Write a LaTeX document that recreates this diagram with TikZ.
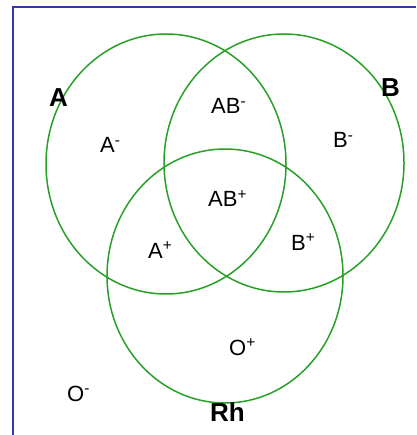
\documentclass[tikz,border=0pt]{standalone}
\usepackage{fontspec}
\setmainfont{Liberation Sans}

\definecolor{setgreen}{RGB}{40,160,40}
\definecolor{frameblue}{RGB}{55,55,165}

\begin{document}
\begin{tikzpicture}[
        x=1pt, y=-1pt,
        every node/.style={inner sep=0pt, anchor=base west},
        region/.style={font=\fontsize{22}{25}\selectfont},
        setname/.style={font=\fontsize{26}{29}\selectfont\bfseries},
        setline/.style={draw=setgreen, line width=1.5pt},
        frame/.style={draw=frameblue, line width=2pt}
      ]
        \useasboundingbox (0,0) rectangle (416,435);

        % frame on top and left
        \draw[frame] (416,7) -- (13,7) -- (13,435);

        % the three sets
        \draw[setline] (166,164) ellipse [x radius=120pt, y radius=130pt];
        \draw[setline] (284,163) ellipse [x radius=120pt, y radius=129pt];
        \draw[setline] (225,276) ellipse [x radius=118pt, y radius=127pt];

        % set names
        \node[setname] (A) at (49,107) {A};
        \node[setname] (B) at (381,97) {B};
        \node[setname] (Rh) at (210,421) {Rh};

        % blood groups
        \node[region] (Aneg) at (100,153) {A\textsuperscript{-}};
        \node[region] (ABneg) at (211,114) {AB\textsuperscript{-}};
        \node[region] (Bneg) at (333,148) {B\textsuperscript{-}};
        \node[region] (ABpos) at (208,207) {AB\textsuperscript{+}};
        \node[region] (Apos) at (148,258) {A\textsuperscript{+}};
        \node[region] (Bpos) at (291,250) {B\textsuperscript{+}};
        \node[region] (Opos) at (229,355) {O\textsuperscript{+}};
        \node[region] (Oneg) at (67,401) {O\textsuperscript{-}};
      \end{tikzpicture}
\end{document}
